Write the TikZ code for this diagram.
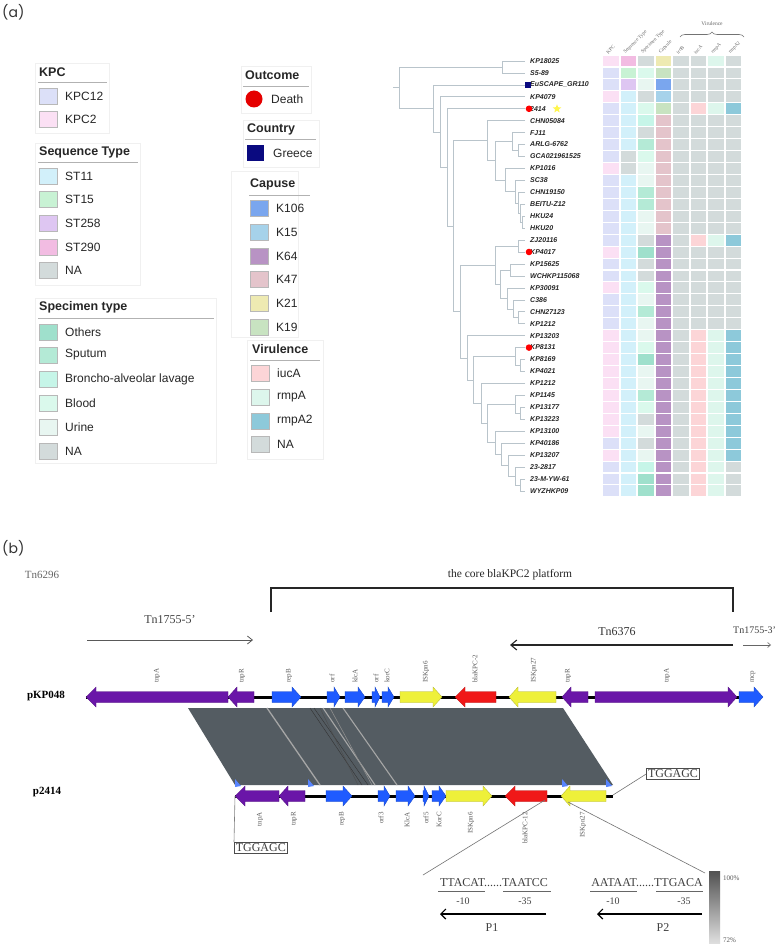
\documentclass[tikz,border=0pt]{standalone}
\usepackage{fontspec}
\setmainfont{Liberation Serif}
\setsansfont{Liberation Sans}
\newfontfamily\popfont{Poppins}
\usetikzlibrary{arrows.meta,decorations.pathreplacing,shapes.geometric}
\definecolor{kpcA}{HTML}{DCE0F8}
\definecolor{kpcB}{HTML}{FBE0F4}
\definecolor{st11}{HTML}{D2F0FA}
\definecolor{st15}{HTML}{C8F2D4}
\definecolor{st258}{HTML}{DEC6F2}
\definecolor{st290}{HTML}{F2BCE2}
\definecolor{na}{HTML}{D3DBDB}
\definecolor{spO}{HTML}{9FE0CC}
\definecolor{spS}{HTML}{B4EAD6}
\definecolor{spB}{HTML}{C6F5E8}
\definecolor{spD}{HTML}{DAF9EC}
\definecolor{spU}{HTML}{E8F6F1}
\definecolor{k106}{HTML}{7AA6EE}
\definecolor{k15}{HTML}{A6D2EA}
\definecolor{k64}{HTML}{B893C4}
\definecolor{k47}{HTML}{E4C4CB}
\definecolor{k21}{HTML}{EEEAB2}
\definecolor{k19}{HTML}{C8E3C1}
\definecolor{iuc}{HTML}{FCD5D7}
\definecolor{rmp}{HTML}{DDF6EC}
\definecolor{rmpb}{HTML}{8DC9DA}
\definecolor{treec}{HTML}{B9C4CB}
\definecolor{gpur}{HTML}{6A16A8}
\definecolor{gblu}{HTML}{1F5BFF}
\definecolor{gyel}{HTML}{EEF03A}
\definecolor{gred}{HTML}{F01818}
\definecolor{band}{HTML}{545C62}
\definecolor{navy}{HTML}{0A0A80}
\newcounter{lgc}
\newcommand\lsw[4]{\stepcounter{lgc}\fill[fill=#3,sw] (#1,#2-8) rectangle ++(18,16);
  \node[lg] (lg\arabic{lgc}) at (#1+26,#2) {#4};}
\newcommand\tnode[5]{\draw[tl] (#2,#3) -| (#1,#5) -- (#4,#5);}
\newcommand\hmcol[2]{\foreach \c [count=\i] in {#2} {\fill[fill=\c] ({603+(#1-1)*17.5},{55.6+(\i-1)*11.94}) rectangle ++(15.5,10.9);}}
\newcommand\gR[5]{\filldraw[fill=#4,draw=#4!75!black,line width=0.3] (#1,#3-5.5) -- (#2-#5,#3-5.5) -- (#2-#5,#3-10) -- (#2,#3) -- (#2-#5,#3+10) -- (#2-#5,#3+5.5) -- (#1,#3+5.5) -- cycle;}
\newcommand\gL[5]{\filldraw[fill=#4,draw=#4!75!black,line width=0.3] (#2,#3-5.5) -- (#1+#5,#3-5.5) -- (#1+#5,#3-10) -- (#1,#3) -- (#1+#5,#3+10) -- (#1+#5,#3+5.5) -- (#2,#3+5.5) -- cycle;}
\tikzset{
  lg/.style={font=\sffamily\fontsize{12}{14}\selectfont,anchor=west,text=black!85,inner sep=0},
  lgt/.style={font=\sffamily\bfseries\fontsize{12.5}{14}\selectfont,anchor=west,text=black!85,inner sep=0},
  sw/.style={draw=black!28,line width=0.5},
  lbox/.style={draw=black!6,line width=0.8},
  lline/.style={draw=black!30,line width=0.7},
  tl/.style={draw=treec,line width=0.6},
  leaf/.style={font=\sffamily\bfseries\itshape\fontsize{7}{8}\selectfont,anchor=west,inner sep=0,text=black!85},
  hdr/.style={font=\fontsize{5}{5.5}\selectfont,anchor=west,rotate=45,inner sep=0,text=black!60},
  gla/.style={font=\fontsize{7}{8}\selectfont,text=black!65,inner sep=0,rotate=90,anchor=west},
  glb/.style={font=\fontsize{7}{8}\selectfont,text=black!65,inner sep=0,rotate=90,anchor=east},
  sr/.style={font=\fontsize{12}{14}\selectfont,inner sep=0},
}
\begin{document}
\begin{tikzpicture}[x=1pt,y=-1pt]
\useasboundingbox (0,0) rectangle (777,944);
\fill[white] (0,0) rectangle (777,944);
% ---------------- (a) labels
\node[font=\popfont\fontsize{14}{16}\selectfont,text=black!80,anchor=west,inner sep=0] (la) at (2,12) {(a)};
% ---------------- legends
\draw[lbox] (35,63) rectangle (109,133);
\node[lgt] (tKPC) at (39,72) {KPC};
\draw[lline] (38,82) -- (107,82);
\lsw{39}{96}{kpcA}{KPC12}
\lsw{39}{119}{kpcB}{KPC2}

\draw[lbox] (35,143) rectangle (140,285);
\node[lgt] (tST) at (39,152) {Sequence Type};
\draw[lline] (38,162) -- (138,162);
\lsw{39}{176}{st11}{ST11}
\lsw{39}{199}{st15}{ST15}
\lsw{39}{223}{st258}{ST258}
\lsw{39}{247}{st290}{ST290}
\lsw{39}{270}{na}{NA}

\draw[lbox] (35,298) rectangle (216,463);
\node[lgt] (tSP) at (39,307) {Specimen type};
\draw[lline] (38,318) -- (214,318);
\lsw{39}{332}{spO}{Others}
\lsw{39}{355}{spS}{Sputum}
\lsw{39}{379}{spB}{Broncho-alveolar lavage}
\lsw{39}{403}{spD}{Blood}
\lsw{39}{427}{spU}{Urine}
\lsw{39}{451}{na}{NA}

\draw[lbox] (241,66) rectangle (311,113);
\node[lgt] (tOC) at (245,75) {Outcome};
\draw[lline] (243,86) -- (309,86);
\fill[red!90!black] (254,99) circle (8.5);
\node[lg] (lDeath) at (271,99) {Death};

\draw[lbox] (243,120) rectangle (319,167);
\node[lgt] (tCO) at (247,129) {Country};
\draw[lline] (245,139) -- (316,139);
\fill[navy] (247,145) rectangle (264,161);
\node[lg] (lGreece) at (273,153) {Greece};

\draw[lbox] (231,171) rectangle (298,337);
\node[lgt] (tCA) at (250,184) {Capuse};
\draw[lline] (249,195) -- (310,195);
\lsw{250}{208}{k106}{K106}
\lsw{250}{232}{k15}{K15}
\lsw{250}{256}{k64}{K64}
\lsw{250}{279}{k47}{K47}
\lsw{250}{303}{k21}{K21}
\lsw{250}{327}{k19}{K19}

\draw[lbox] (247,340) rectangle (323,459);
\node[lgt] (tVI) at (252,349) {Virulence};
\draw[lline] (250,360) -- (320,360);
\lsw{251}{373}{iuc}{iucA}
\lsw{251}{397}{rmp}{rmpA}
\lsw{251}{421}{rmpb}{rmpA2}
\lsw{251}{444}{na}{NA}

% ---------------- tree
\draw[tl] (393,87.8) -- (399,87.8);
\tnode{399}{502}{67.0}{433}{108.5}
\tnode{502}{525}{61.0}{525}{72.9}
\tnode{433}{525}{84.9}{440}{132.1}
\tnode{440}{525}{96.8}{447}{167.5}
\tnode{447}{525}{108.8}{453}{226.1}
\tnode{453}{487}{140.8}{460}{311.5}
\tnode{460}{495}{265.1}{467}{357.8}
\tnode{487}{525}{120.7}{495}{160.8}
\tnode{495}{512}{141.6}{505}{180.0}
\tnode{512}{525}{132.6}{518}{150.6}
\tnode{518}{525}{144.6}{525}{156.5}
\tnode{505}{525}{168.5}{515}{191.6}
\tnode{515}{525}{180.4}{518}{202.8}
\tnode{518}{525}{192.3}{520}{213.3}
\tnode{520}{525}{204.3}{522}{222.2}
\tnode{522}{525}{216.2}{525}{228.2}
\tnode{495}{518}{246.1}{500}{284.1}
\tnode{518}{525}{240.1}{525}{252.0}
\tnode{500}{510}{270.0}{507}{298.3}
\tnode{510}{525}{264.0}{525}{275.9}
\tnode{507}{525}{287.9}{513}{308.8}
\tnode{513}{525}{299.8}{518}{317.7}
\tnode{518}{525}{311.7}{525}{323.7}
\tnode{467}{525}{335.6}{473}{380.0}
\tnode{473}{515}{356.5}{481}{403.4}
\tnode{515}{525}{347.6}{520}{365.5}
\tnode{520}{525}{359.5}{525}{371.4}
\tnode{481}{525}{383.4}{487}{423.5}
\tnode{487}{515}{404.3}{495}{442.7}
\tnode{515}{525}{395.3}{520}{413.2}
\tnode{520}{525}{407.3}{525}{419.2}
\tnode{495}{525}{431.1}{501}{454.3}
\tnode{501}{525}{443.1}{508}{465.5}
\tnode{508}{525}{455.0}{515}{475.9}
\tnode{515}{525}{467.0}{520}{484.9}
\tnode{520}{525}{478.9}{525}{490.8}
% leaf labels
\foreach \t [count=\i] in {KP18025,S5-89,EuSCAPE\_GR110,KP4079,2414,CHN05084,FJ11,ARLG-6762,GCA021961525,KP1016,SC38,CHN19150,BEITU-Z12,HKU24,HKU20,ZJ20116,KP4017,KP15625,WCHKP115068,KP30091,C386,CHN27123,KP1212,KP13203,KP8131,KP8169,KP4021,KP1212,KP1145,KP13177,KP13223,KP13100,KP40186,KP13207,23-2817,23-M-YW-61,WYZHKP09}
  {\node[leaf] (leaf\i) at (530,{61+(\i-1)*11.94}) {\t};}
\fill[navy] (525,81.9) rectangle (531,87.9);
\fill[red] (529,108.8) circle (3.3);
\fill[red] (529,252.0) circle (3.3);
\fill[red] (529,347.6) circle (3.3);
\node[star,star points=5,star point ratio=2.3,fill=yellow!70!white,inner sep=0,minimum size=9] (star) at (557,108.8) {};
% ---------------- heatmap
\hmcol{1}{kpcB,kpcA,kpcA,kpcB,kpcA,kpcA,kpcA,kpcA,kpcA,kpcB,kpcA,kpcA,kpcA,kpcA,kpcA,kpcA,kpcB,kpcA,kpcA,kpcB,kpcA,kpcA,kpcA,kpcB,kpcB,kpcB,kpcB,kpcB,kpcB,kpcB,kpcB,kpcB,kpcA,kpcB,kpcA,kpcA,kpcA}
\hmcol{2}{st290,st15,st258,st11,st11,st11,st11,st11,na,na,st11,st11,st11,st11,st11,st11,st11,st11,st11,st11,st11,st11,st11,st11,st11,st11,st11,st11,st11,st11,st11,st11,st11,st11,st11,st11,st11}
\hmcol{3}{na,spD,spU,na,spD,spB,na,spS,spD,spU,spU,spS,spS,spU,spU,na,spO,na,na,spD,spU,spS,spU,spU,spD,spO,spU,spU,spS,spD,na,spU,na,spU,spB,spO,spO}
\hmcol{4}{k21,k19,k106,k15,k19,k47,k47,k47,k47,k47,k47,k47,k47,k47,k47,k64,k64,k64,k64,k64,k64,k64,k64,k64,k64,k64,k64,k64,k64,k64,k64,k64,k64,k64,k64,k64,k64}
\hmcol{5}{na,na,na,na,na,na,na,na,na,na,na,na,na,na,na,na,na,na,na,na,na,na,na,na,na,na,na,na,na,na,na,na,na,na,na,na,na}
\hmcol{6}{na,na,na,na,iuc,na,na,na,na,na,na,na,na,na,na,iuc,na,na,na,na,na,na,na,iuc,iuc,iuc,iuc,iuc,iuc,iuc,iuc,iuc,iuc,iuc,iuc,iuc,iuc}
\hmcol{7}{rmp,na,na,na,rmp,na,na,na,na,na,na,na,na,na,na,rmp,na,na,na,na,na,na,na,rmp,rmp,rmp,rmp,rmp,rmp,rmp,rmp,rmp,rmp,rmp,rmp,rmp,rmp}
\hmcol{8}{na,na,na,na,rmpb,na,na,na,na,na,na,na,na,na,na,rmpb,na,na,na,na,na,na,na,rmpb,rmpb,rmpb,rmpb,rmpb,rmpb,rmpb,rmpb,rmpb,rmpb,rmpb,na,na,na}
\foreach \t [count=\j] in {KPC,Sequence Type,Specimen Type,Capsule,iroB,iucA,rmpA,rmpA2}
  {\node[hdr] (hdr\j) at ({607+(\j-1)*17.5},53) {\t};}
\draw[black!55,line width=0.6,decorate,decoration={brace,amplitude=5}] (680,37) -- (744,37);
\node[font=\fontsize{5.5}{6}\selectfont,text=black!60,inner sep=0] (vir) at (712,24) {Virulence};

% ---------------- (b)
\node[font=\popfont\fontsize{14}{16}\selectfont,text=black!80,anchor=west,inner sep=0] (lb) at (2,548) {(b)};
\node[font=\fontsize{11}{13}\selectfont,text=black!60,inner sep=0] (tn6296) at (42,575) {Tn6296};
\node[font=\fontsize{11.5}{13}\selectfont,text=black!85,inner sep=0] (core) at (510,575) {the core blaKPC2 platform};
\coordinate (brA) at (271,612);
\coordinate (brB) at (733,612);
\draw[black!85,line width=1.3] (brA) |- (502,588) -| (brB);
\node[sr,text=black!75] (tn5) at (170,620) {Tn1755-5’};
\coordinate (a5s) at (87,640); \coordinate (a5e) at (253,640);
\draw[black!65,line width=0.8,-{Straight Barb[length=5pt,width=8pt]}] (a5s) -- (a5e);
\node[sr,text=black!80] (tn6376) at (617,632) {Tn6376};
\coordinate (a6s) at (733,645); \coordinate (a6e) at (510,645);
\draw[black!85,line width=1.1,-{Straight Barb[length=6pt,width=10pt]}] (a6s) -- (a6e);
\node[font=\fontsize{10}{12}\selectfont,inner sep=0,text=black!75,anchor=west] (tn3) at (733,630) {Tn1755-3’};
\coordinate (a3s) at (743,645); \coordinate (a3e) at (771,645);
\draw[black!60,line width=0.6,-{Straight Barb[length=3pt,width=5pt]}] (a3s) -- (a3e);

% pKP048 row
\node[font=\bfseries\fontsize{11}{13}\selectfont,inner sep=0] (pkp) at (46,696) {pKP048};
\draw[black,line width=3] (86,697) -- (739,697);
\gL{86}{228}{697}{gpur}{10}
\gL{228}{254}{697}{gpur}{9}
\gR{272}{301}{697}{gblu}{9}
\gR{327}{340}{697}{gblu}{6}
\gR{345}{365}{697}{gblu}{7}
\gR{372}{380}{697}{gblu}{5}
\gR{382}{394}{697}{gblu}{6}
\gR{400}{442}{697}{gyel}{9}
\gL{455}{496}{697}{gred}{10}
\gL{509}{556}{697}{gyel}{9}
\gL{562}{588}{697}{gpur}{9}
\gR{595}{737}{697}{gpur}{9}
\gR{739}{763}{697}{gblu}{9}
\node[gla] (a1) at (157,683) {tnpA};
\node[gla] (a2) at (242,683) {tnpR};
\node[gla] (a3) at (289,683) {repB};
\node[gla] (a4) at (332,683) {orf};
\node[gla] (a5) at (355,683) {klcA};
\node[gla] (a6) at (376,683) {orf};
\node[gla] (a7) at (387,683) {korC};
\node[gla] (a8) at (426,683) {ISKpn6};
\node[gla] (a9) at (475,683) {blaKPC-2};
\node[gla] (a10) at (534,683) {ISKpn27};
\node[gla] (a11) at (568,683) {tnpR};
\node[gla] (a12) at (667,683) {tnpA};
\node[gla] (a13) at (753,683) {mcp};

% homology band
\fill[band] (188,708) -- (563,708) -- (613,785) -- (235,785) -- cycle;
\draw[black!35,line width=1.3] (267,708) -- (320,785);
\draw[black!35,line width=1.1] (323,708) -- (375,785);
\draw[black!35,line width=1.1] (343,708) -- (397,785);
\draw[black!80,line width=0.4] (310,708) -- (362,785);
\draw[black!80,line width=0.4] (314,708) -- (368,785);
\draw[black!70,line width=0.4] (320,708) -- (358,785);
\draw[black!45,line width=0.6] (330,708) -- (372,785);
\foreach \bx in {235,308,562,606}
  {\fill[gblu!75] (\bx,779) -- (\bx+6,786) -- (\bx,787) -- cycle;}

% p2414 row
\node[font=\bfseries\fontsize{11}{13}\selectfont,inner sep=0] (p24) at (47,792) {p2414};
\draw[black,line width=3] (235,796) -- (613,796);
\gL{235}{279}{796}{gpur}{10}
\gL{279}{305}{796}{gpur}{9}
\gR{326}{352}{796}{gblu}{9}
\gR{378}{390}{796}{gblu}{6}
\gR{396}{415}{796}{gblu}{7}
\gR{423}{429}{796}{gblu}{5}
\gR{432}{446}{796}{gblu}{7}
\gR{446}{492}{796}{gyel}{9}
\gL{505}{547}{796}{gred}{10}
\gL{561}{606}{796}{gyel}{9}
\node[glb] (b1) at (260,812) {tnpA};
\node[glb] (b2) at (294,812) {tnpR};
\node[glb] (b3) at (342,812) {repB};
\node[glb] (b4) at (381,812) {orf3};
\node[glb] (b5) at (407,812) {KlcA};
\node[glb] (b6) at (426,812) {orf5};
\node[glb] (b7) at (439,812) {KorC};
\node[glb] (b8) at (471,812) {ISKpn6};
\node[glb] (b9) at (525,812) {blaKPC-12};
\node[glb] (b10) at (583,812) {ISKpn27};

% TGGAGC boxes
\node[draw=black!70,line width=0.6,font=\fontsize{12}{14}\selectfont,text=black!75,inner sep=1.5,anchor=north west] (tgL) at (234,842) {TGGAGC};
\coordinate (lEnd) at (235,796);
\draw[black!50,line width=0.6] (lEnd) -- (tgL.north west);
\node[draw=black!70,line width=0.6,font=\fontsize{12}{14}\selectfont,text=black!75,inner sep=1.5] (tgR) at (673,774) {TGGAGC};
\coordinate (rEnd) at (613,795);
\draw[black!55,line width=0.6] (rEnd) -- (tgR.west);

% promoters
\coordinate (z1a) at (545,800); \coordinate (z1b) at (423,875);
\coordinate (z2a) at (568,802); \coordinate (z2b) at (705,873);
\draw[black!55,line width=0.6] (z1a) -- (z1b);
\draw[black!55,line width=0.6] (z2a) -- (z2b);
\node[sr,text=black!75] (p1s) at (494,883) {TTACAT......TAATCC};
\draw[black!60,line width=0.6] (438,891) -- (485,891);
\draw[black!60,line width=0.6] (503,891) -- (551,891);
\node[font=\fontsize{10}{12}\selectfont,text=black!75,inner sep=0] (m10a) at (463,901) {-10};
\node[font=\fontsize{10}{12}\selectfont,text=black!75,inner sep=0] (m35a) at (525,901) {-35};
\coordinate (p1s0) at (546,914); \coordinate (p1e) at (440,914);
\draw[black,line width=1.2,-{Straight Barb[length=5pt,width=10pt]}] (p1s0) -- (p1e);
\node[sr,text=black!75] (P1) at (492,928) {P1};
\node[sr,text=black!75] (p2s) at (647,883) {AATAAT......TTGACA};
\draw[black!60,line width=0.6] (590,891) -- (637,891);
\draw[black!60,line width=0.6] (656,891) -- (703,891);
\node[font=\fontsize{10}{12}\selectfont,text=black!75,inner sep=0] (m10b) at (613,901) {-10};
\node[font=\fontsize{10}{12}\selectfont,text=black!75,inner sep=0] (m35b) at (684,901) {-35};
\coordinate (p2s0) at (702,914); \coordinate (p2e) at (597,914);
\draw[black,line width=1.2,-{Straight Barb[length=5pt,width=10pt]}] (p2s0) -- (p2e);
\node[sr,text=black!75] (P2) at (663,928) {P2};
% scale bar
\shade[top color=black!68,bottom color=black!12] (709,871) rectangle (720,944);
\node[font=\fontsize{7}{8}\selectfont,text=black!65,anchor=west,inner sep=0] (s100) at (723,878) {100\%};
\node[font=\fontsize{7}{8}\selectfont,text=black!65,anchor=west,inner sep=0] (s72) at (723,940) {72\%};
\end{tikzpicture}
\end{document}
